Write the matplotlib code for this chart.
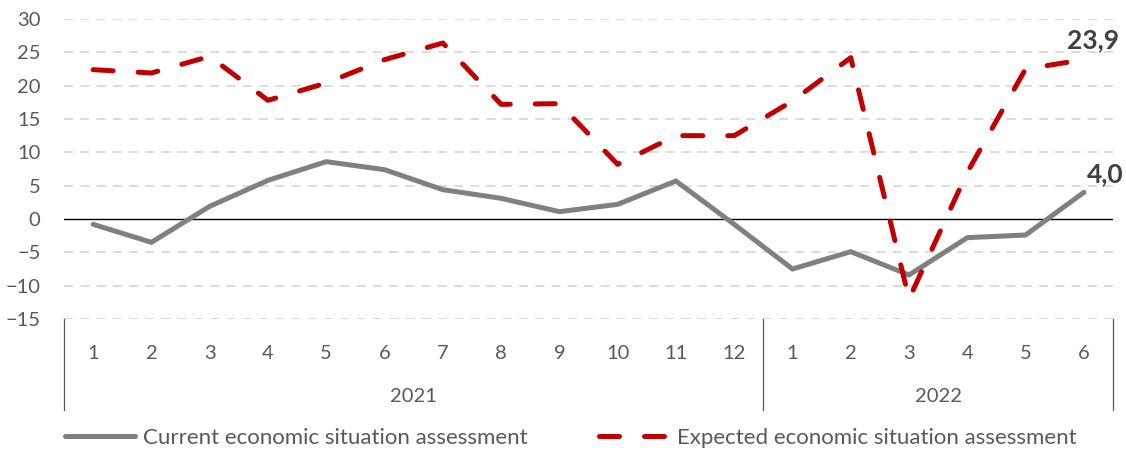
import numpy as np
import matplotlib.pyplot as plt
import matplotlib.transforms as mtransforms

plt.rcParams['font.family'] = ['Lato', 'DejaVu Sans']

# Monthly data, Jan 2021 - Jun 2022
months = ['1', '2', '3', '4', '5', '6', '7', '8', '9', '10', '11', '12',
          '1', '2', '3', '4', '5', '6']
years = ['2021', '2022']
months_per_year = [12, 6]
current = [-0.8, -3.5, 1.9, 5.8, 8.6, 7.4, 4.4, 3.1, 1.1, 2.2, 5.7, -0.8,
           -7.5, -4.9, -8.4, -2.8, -2.4, 4.0]
expected = [22.4, 21.9, 24.4, 17.8, 20.4, 23.9, 26.4, 17.2, 17.3, 8.2, 12.5, 12.5,
            17.7, 24.2, -12.0, 7.0, 22.5, 23.9]

text_col = '#595959'
x = np.arange(len(months))

fig = plt.figure(figsize=(11.26, 4.51), dpi=100)
ax = fig.add_axes([64 / 1126, 1 - 319 / 451, (1113 - 64) / 1126, 300 / 451])

# grid lines
for v in range(-15, 31, 5):
    if v == 0:
        ax.axhline(0, color='black', lw=1.0, zorder=1)
    else:
        ax.axhline(v, color='#d9d9d9', lw=1.3, ls=(0, (5, 4)), zorder=0)

ax.plot(x, current, color='#808080', lw=3.6, solid_capstyle='round',
        solid_joinstyle='miter', zorder=3, label='Current economic situation assessment')
ax.plot(x, expected, color='#c00000', lw=3.6, dashes=(4, 5), dash_capstyle='round',
        zorder=4, label='Expected economic situation assessment')

# end-point labels
ax.annotate(f'{expected[-1]:.1f}'.replace('.', ','), (x[-1], expected[-1]),
            xytext=(-12, 8), textcoords='offset points', ha='left', va='baseline',
            fontsize=19, fontweight='bold', color='#404040', annotation_clip=False)
ax.annotate(f'{current[-1]:.1f}'.replace('.', ','), (x[-1], current[-1]),
            xytext=(2, 7), textcoords='offset points', ha='left', va='baseline',
            fontsize=19, fontweight='bold', color='#404040', annotation_clip=False)

ax.set_xlim(-0.5, len(months) - 0.5)
ax.set_ylim(-15, 30)
ax.set_yticks(range(-15, 31, 5))
ax.tick_params(axis='y', length=0, labelsize=14.5, labelcolor=text_col, pad=17)
ax.set_xticks(x)
ax.set_xticklabels(months)
ax.tick_params(axis='x', length=0, labelsize=14.5, labelcolor=text_col, pad=19)
for s in ax.spines.values():
    s.set_visible(False)

# year group labels and separators
trans = mtransforms.blended_transform_factory(ax.transData, ax.transAxes)
sep_bottom = -(410 - 319) / 300
start = -0.5
bounds = [start]
for yr, n in zip(years, months_per_year):
    ax.text(start + n / 2, -(397 - 319) / 300, yr, transform=trans, ha='center',
            va='center', fontsize=14.5, color=text_col)
    start += n
    bounds.append(start)
for b in bounds:
    ax.plot([b, b], [0, sep_bottom], transform=trans, color='#595959', lw=0.9,
            clip_on=False)

fig.legend(loc='center left', bbox_to_anchor=(65 / 1126, 1 - 438 / 451), ncol=2,
           frameon=False, fontsize=16, handlelength=3.15, columnspacing=3.2,
           handletextpad=0.36, borderpad=0, borderaxespad=0, labelcolor=text_col)

fig.savefig('out.png', dpi=100)
